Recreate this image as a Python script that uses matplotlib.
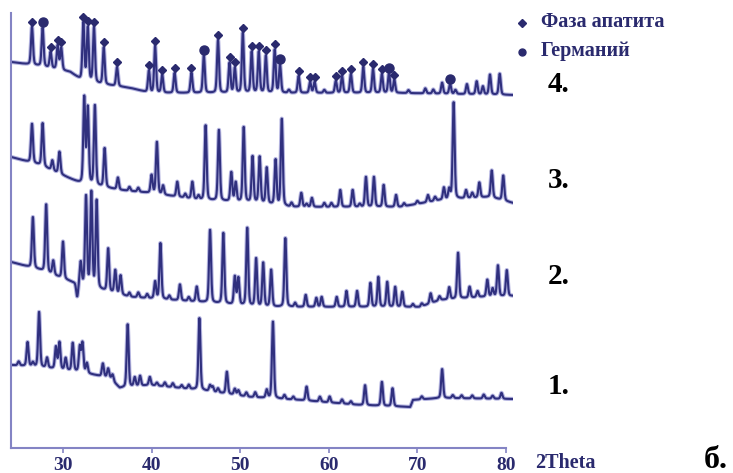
import numpy as np
import matplotlib
matplotlib.use("Agg")
import matplotlib.pyplot as plt

# ---- diffraction data (2Theta in degrees, intensity in arbitrary units) ----
# Background levels of each pattern (stacked offsets included)
bg1_theta = [24.13, 27.4, 31.9, 35.3, 36.4, 39.8, 45.5, 51.1, 56.7, 63.5, 69.2, 69.5, 72.6, 80.8]
bg1_level = [83, 81, 76, 70, 60, 63, 58, 51, 48, 43, 41, 48, 50, 49]
bg2_theta = [24.13, 27.4, 31.9, 37.6, 45.5, 52.2, 56.7, 70.3, 72.6, 77.1, 80.8]
bg2_level = [186, 178, 163, 151, 146, 141, 141, 141, 148, 151, 152]
bg3_theta = [24.13, 27.4, 31.9, 36.4, 39.8, 45.5, 52.2, 55.6, 68.0, 72.6, 75.9, 78.2, 80.8]
bg3_level = [291, 283, 265, 258, 255, 248, 245, 241, 241, 248, 250, 251, 245]
bg4_theta = [24.13, 27.4, 30.8, 31.9, 34.2, 37.6, 39.8, 52.2, 68.0, 80.8]
bg4_level = [386, 382, 376, 369, 364, 360, 355, 355, 355, 353]

# Reflections: positions and heights above background
pk1_pos = [25.0, 26.0, 26.6, 27.3, 28.2, 29.2, 29.6, 30.3, 31.1, 31.9, 32.2, 32.7,
           34.5, 35.1, 35.6, 37.3, 38.1, 38.7, 39.8, 40.6, 41.5, 42.4, 43.4, 44.2,
           45.4, 46.6, 46.9, 47.5, 48.5, 49.4, 49.8, 50.7, 51.7, 53.0, 53.7, 55.0,
           56.0, 57.5, 59.0, 60.1, 61.5, 62.5, 64.1, 66.0, 67.2, 70.5, 72.8, 74.0,
           75.0, 76.2, 77.5, 78.5, 79.5]
pk1_int = [4, 24, 4, 55, 10, 22, 27, 12, 28, 25, 29, 10,
           13, 9, 6, 63, 9, 10, 8, 3, 4, 4, 3, 4,
           72, 6, 5, 4, 22, 6, 5, 4, 5, 8, 77, 4,
           3, 14, 5, 6, 4, 3, 20, 24, 18, 3, 29, 3,
           3, 3, 4, 3, 6]

pk2_pos = [26.6, 28.1, 28.9, 30.0, 31.6, 32.0, 32.6, 33.2, 33.8, 35.1, 35.9, 36.5,
           37.5, 38.5, 39.5, 40.4, 41.0, 42.0, 43.2, 44.2, 45.1, 46.6, 48.1, 49.4,
           49.8, 50.8, 51.8, 52.6, 53.5, 55.1, 56.2, 57.4, 58.6, 59.2, 60.9, 62.0,
           63.2, 64.7, 65.6, 66.6, 67.5, 68.3, 69.5, 70.5, 71.5, 72.5, 73.6, 74.6,
           75.9, 76.8, 77.9, 78.5, 79.1, 80.1]
pk2_int = [51, 68, 14, 37, -14, 23, 90, 95, 88, 43, 23, 19,
           4, 5, 4, 17, 56, 4, 16, 4, 15, 73, 71, 28,
           27, 78, 48, 44, 37, 69, 4, 12, 9, 10, 10, 16,
           16, 24, 30, 25, 20, 15, 3, 3, 10, 4, 12, 46,
           11, 6, 17, 8, 31, 26]

pk3_pos = [26.5, 27.7, 28.8, 29.6, 32.4, 32.8, 33.6, 34.7, 36.2, 37.5, 38.5, 40.0,
           40.6, 41.3, 42.9, 43.8, 44.6, 45.3, 46.1, 47.6, 49.0, 49.5, 50.4, 51.4,
           52.2, 53.0, 54.0, 54.7, 55.8, 56.9, 57.5, 58.1, 59.5, 60.3, 61.3, 62.7,
           63.5, 64.2, 65.1, 66.2, 67.6, 68.5, 70.0, 71.2, 72.0, 73.0, 73.6, 74.1,
           75.5, 76.2, 77.0, 78.4, 79.7]
pk3_int = [39, 43, 10, 22, 86, 76, 80, 39, 12, 4, 4, 18,
           52, 9, 15, 4, 17, 4, 75, 71, 29, 19, 75, 46,
           46, 36, 45, 87, 4, 14, 3, 9, 4, 4, 17, 17,
           3, 30, 30, 22, 12, 3, 3, 7, 4, 12, 10, 97,
           8, 5, 15, 27, 25]

pk4_pos = [26.5, 27.7, 28.6, 29.4, 29.8, 32.3, 32.8, 33.5, 34.6, 36.1, 39.7, 40.4,
           41.2, 42.6, 44.5, 45.9, 47.5, 48.8, 49.4, 50.3, 51.3, 52.1, 52.9, 53.9,
           54.5, 55.5, 56.6, 57.9, 58.4, 59.5, 60.8, 61.5, 62.5, 63.9, 65.0, 66.0,
           66.8, 67.4, 69.0, 70.9, 71.8, 72.8, 73.7, 74.3, 75.6, 76.7, 77.4, 78.2,
           79.3]
pk4_int = [38, 39, 16, 24, 22, 57, 53, 55, 37, 19, 22, 47,
           18, 20, 20, 38, 53, 30, 25, 60, 41, 41, 37, 43,
           28, 3, 17, 11, 11, 3, 12, 17, 19, 26, 24, 19,
           20, 13, 3, 5, 4, 11, 10, 4, 10, 13, 8, 20,
           21]

# Phase identification on pattern 4
apatite_pos = [26.5, 28.6, 29.4, 29.8, 32.3, 32.8, 33.5, 34.6, 36.1, 39.7, 40.4, 41.2,
               42.6, 44.5, 47.5, 48.8, 49.4, 50.3, 51.3, 52.1, 52.9, 53.9, 56.6, 57.9,
               58.4, 60.8, 61.5, 62.5, 63.9, 65.0, 66.0, 67.4]
germanium_pos = [27.7, 45.9, 54.5, 66.8, 73.7]

x_ticks = [30, 40, 50, 60, 70, 80]
trace_labels = ["1.", "2.", "3.", "4."]
legend_labels = ["Фаза апатита", "Германий"]

# ---- build profiles ----
theta = np.arange(24.13, 80.81, 0.02)


def pattern(bg_t, bg_l, pos, amp, fwhm=0.26, eta=0.3):
    y = np.interp(theta, bg_t, bg_l).astype(float)
    s = fwhm / 2.3548
    g = fwhm / 2
    for c, a in zip(pos, amp):
        d = theta - c
        gauss = np.exp(-0.5 * (d / s) ** 2)
        lor = g ** 2 / (d ** 2 + g ** 2)
        y += a * ((1 - eta) * gauss + eta * lor)
    return y


traces = [
    pattern(bg1_theta, bg1_level, pk1_pos, pk1_int),
    pattern(bg2_theta, bg2_level, pk2_pos, pk2_int),
    pattern(bg3_theta, bg3_level, pk3_pos, pk3_int),
    pattern(bg4_theta, bg4_level, pk4_pos, pk4_int),
]

W, H = 733, 473
fig = plt.figure(figsize=(W / 100, H / 100), dpi=100)
ax = fig.add_axes([11 / W, 25 / H, 502 / W, 435 / H])
ax.set_xlim(24.13, 80.8)
ax.set_ylim(0, 435)

line_dark = "#30307e"
line_soft = "#9696d4"
navy = "#2a2a6e"
axis_col = "#8484c4"

for y in traces:
    ax.plot(theta, y, color=line_soft, lw=3.0, alpha=0.7, solid_joinstyle="round")
    ax.plot(theta, y, color=line_dark, lw=1.5, solid_joinstyle="round")

top = traces[3]


def marker_y(p):
    m = (theta > p - 0.15) & (theta < p + 0.15)
    return top[m].max() + 5


ax.plot(apatite_pos, [marker_y(p) for p in apatite_pos], ls="none", marker="D",
        ms=4.2, color=navy, mec=navy)
ax.plot(germanium_pos, [marker_y(p) for p in germanium_pos], ls="none", marker="o",
        ms=6.5, color=navy, mec=navy)

for side in ["top", "right"]:
    ax.spines[side].set_visible(False)
for side in ["left", "bottom"]:
    ax.spines[side].set_color(axis_col)
    ax.spines[side].set_linewidth(1.5)
ax.spines["bottom"].set_bounds(24.13, 80)
ax.set_yticks([])
ax.set_xticks(x_ticks)
ax.tick_params(axis="x", direction="out", length=3.5, width=1.2, color=axis_col,
               pad=3, labelcolor=navy)
for lab in ax.get_xticklabels():
    lab.set_fontfamily("Liberation Serif")
    lab.set_fontweight("bold")
    lab.set_fontsize(14)

serif = dict(family="Liberation Serif", weight="bold")

fig.text(535 / W, 1 - 463 / H, "2Theta", color=navy, fontsize=14.5, va="center",
         ha="left", **serif)
fig.text(704 / W, 1 - 460 / H, "б.", color="black", fontsize=23, va="center",
         ha="left", **serif)

label_y = [386, 277, 181, 85]
for lab, yy in zip(trace_labels, label_y):
    fig.text(548 / W, 1 - yy / H, lab, color="black", fontsize=21, va="center",
             ha="left", **serif)

# legend
fig.lines.append(plt.Line2D([522 / W], [1 - 23 / H], transform=fig.transFigure,
                            marker="D", ms=4, color=navy, ls="none"))
fig.lines.append(plt.Line2D([522 / W], [1 - 52 / H], transform=fig.transFigure,
                            marker="o", ms=5, color=navy, ls="none"))
fig.text(541 / W, 1 - 22 / H, legend_labels[0], color=navy, fontsize=14.5,
         va="center", ha="left", **serif)
fig.text(541 / W, 1 - 51 / H, legend_labels[1], color=navy, fontsize=14.5,
         va="center", ha="left", **serif)

fig.savefig("out.png", dpi=100, facecolor="white")
